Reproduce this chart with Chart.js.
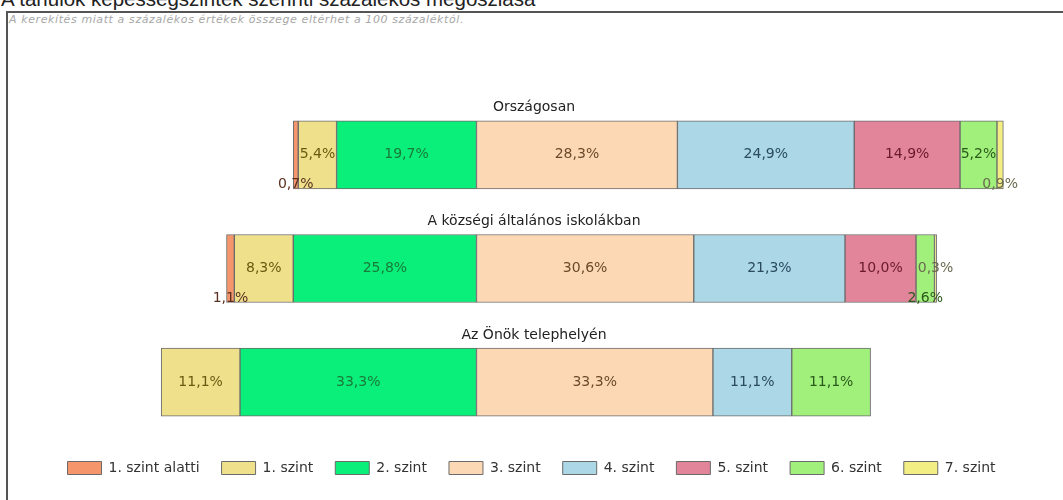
<!DOCTYPE html>
<html>
<head>
<meta charset="utf-8">
<script src="https://cdn.jsdelivr.net/npm/chart.js@4"></script>
<style>
  body { margin: 0; width: 1063px; height: 500px; overflow: hidden; background: #fff; font-family: "Liberation Sans", Arial, sans-serif; }
  #cim { position: absolute; left: 1px; top: -11px; font-size: 20.5px; line-height: 20px; color: #222; white-space: nowrap; }
  #keret { position: absolute; left: 6px; top: 11px; width: 1100px; height: 600px; border-left: 2px solid #555; border-top: 2px solid #555; }
  #megj { position: absolute; left: 9px; top: 13px; font-family: "DejaVu Sans", sans-serif; font-size: 11px; letter-spacing: 0.6px; font-style: italic; color: #a8a8a8; white-space: nowrap; }
  #wrap { position: absolute; left: 0; top: 0; width: 1063px; height: 500px; }
</style>
</head>
<body>
<div id="cim">A tanulók képességszintek szerinti százalékos megoszlása</div>
<div id="keret"></div>
<div id="megj">A kerekítés miatt a százalékos értékek összege eltérhet a 100 százaléktól.</div>
<div id="wrap"><canvas id="grafikon"></canvas></div>
<script>
// csoportok (sorok)
const kategoriak = ['Országosan', 'A községi általános iskolákban', 'Az Önök telephelyén'];
// képességszintek
const szintek = ['1. szint alatti', '1. szint', '2. szint', '3. szint', '4. szint', '5. szint', '6. szint', '7. szint'];
// százalékok soronként, szintenként
const orszagosan = [0.7, 5.4, 19.7, 28.3, 24.9, 14.9, 5.2, 0.9];
const kozsegi = [1.1, 8.3, 25.8, 30.6, 21.3, 10.0, 2.6, 0.3];
const telephely = [0, 11.1, 33.3, 33.3, 11.1, 0, 11.1, 0];

const szinek = ['#f4956c', '#efe08c', '#0aef7a', '#fdd8b4', '#abd7e6', '#e2849a', '#a2f07c', '#f3ee84'];
const cimkeSzinek = ['#5a3020', '#6a5a10', '#1a7a3a', '#6a4a2a', '#2a4a60', '#6a1a2a', '#2a5a1a', '#6a6a50'];

const betu = '"DejaVu Sans", Verdana, sans-serif';
const sorok = [orszagosan, kozsegi, telephely];

// a sávok a 2. és 3. szint határához igazodnak (0 pont)
function lebegoAdat(szintIdx) {
    return sorok.map(function(sor) {
        if (!sor[szintIdx]) return null;
        let kezdet = -(sor[0] + sor[1] + sor[2]);
        for (let i = 0; i < szintIdx; i++) kezdet += sor[i];
        return [kezdet, kezdet + sor[szintIdx]];
    });
}

const adatsorok = szintek.map(function(nev, i) {
    return {
        label: nev,
        data: lebegoAdat(i),
        backgroundColor: szinek[i],
        borderColor: '#6b6b6b',
        borderWidth: 1,
        borderSkipped: false,
        grouped: false,
        barThickness: 68
    };
});

// feliratok: sornevek a sávok fölött, értékek a sávokban
const feliratok = {
    id: 'feliratok',
    afterDatasetsDraw(chart) {
        const ctx = chart.ctx;
        const yScale = chart.scales.y;
        ctx.save();
        ctx.textAlign = 'center';
        ctx.textBaseline = 'middle';
        ctx.font = '14px ' + betu;
        ctx.fillStyle = '#222';
        kategoriak.forEach(function(k, j) {
            ctx.fillText(k, 534, yScale.getPixelForValue(j) - 47);
        });
        sorok.forEach(function(sor, j) {
            let elozoLent = false;
            sor.forEach(function(ertek, i) {
                if (!ertek) return;
                const el = chart.getDatasetMeta(i).data[j];
                const x = (el.x + el.base) / 2;
                const lent = ertek < 3 && !elozoLent;
                elozoLent = lent;
                const y = lent ? el.y + el.height / 2 - 4 : el.y;
                ctx.fillStyle = cimkeSzinek[i];
                ctx.fillText(ertek.toFixed(1).replace('.', ',') + '%', x, y);
            });
        });
        ctx.restore();
    }
};

new Chart(document.getElementById('grafikon'), {
    type: 'bar',
    data: { labels: kategoriak, datasets: adatsorok },
    options: {
        indexAxis: 'y',
        responsive: true,
        maintainAspectRatio: false,
        animation: false,
        layout: { padding: { top: 98, bottom: 15, left: 0, right: 0 } },
        scales: {
            x: { display: false, min: -67.1, max: 82.6 },
            y: { display: false }
        },
        plugins: {
            tooltip: { enabled: false },
            legend: {
                position: 'bottom',
                labels: {
                    boxWidth: 34,
                    boxHeight: 13,
                    padding: 22,
                    color: '#333',
                    font: { family: betu, size: 14 }
                }
            }
        }
    },
    plugins: [feliratok]
});
</script>
</body>
</html>
